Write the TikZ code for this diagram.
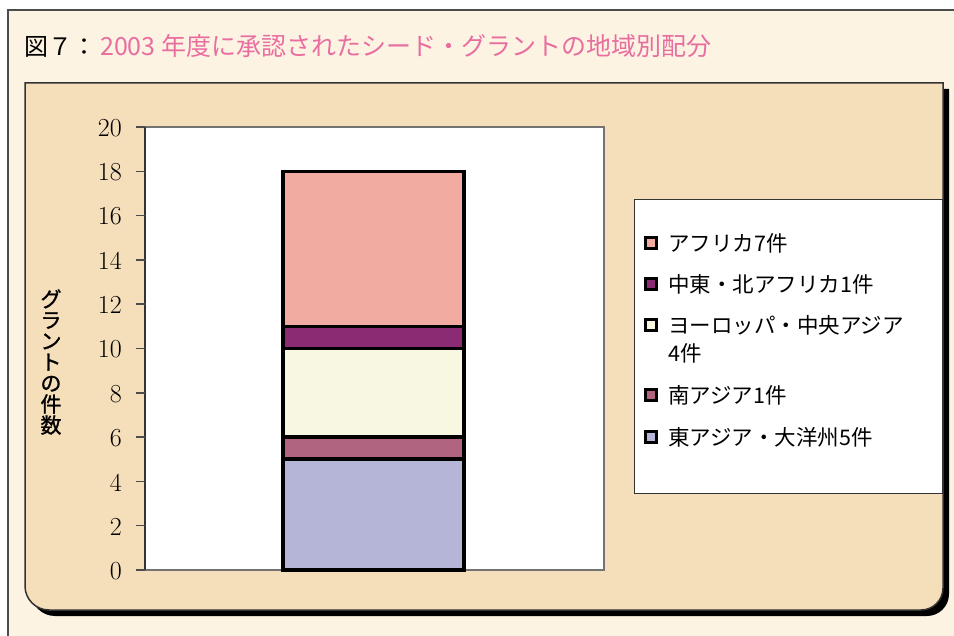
\documentclass[tikz,border=0pt]{standalone}
\usepackage{fontspec}
\newfontfamily\cjk{Noto Sans CJK JP}
\newfontfamily\cjkmed[FakeBold=1.2]{Noto Sans CJK JP}
\definecolor{framebg}{HTML}{FDF3E3}
\definecolor{panelbg}{HTML}{F5DEBA}
\definecolor{titlepink}{HTML}{E96EA0}
\definecolor{cAfrica}{HTML}{F1ABA0}
\definecolor{cMENA}{HTML}{8A2B73}
\definecolor{cEurope}{HTML}{F7F7E2}
\definecolor{cSAsia}{HTML}{B16480}
\definecolor{cEAsia}{HTML}{B5B5D8}
\tikzset{
  seg/.style={draw=black, line width=3.5pt},
  legmark/.style={draw=black, line width=2.5pt, minimum size=11pt, inner sep=0pt},
  legtext/.style={anchor=west, inner sep=0pt, font=\cjk\fontsize{21.5}{24}\selectfont},
  ticklab/.style={anchor=east, inner sep=0pt, font=\fontsize{26}{26}\selectfont},
}
\begin{document}
\begin{tikzpicture}[x=1pt,y=-1pt]
\useasboundingbox (0,0) rectangle (954,636);
\clip (0,0) rectangle (954,636);
\fill[white] (0,0) rectangle (954,636);
% outer frame
\draw[fill=framebg, draw=black!70, line width=1.5pt] (8,10) rectangle (980,660);
% title
\node[anchor=base west, inner sep=0pt, font=\cjk\fontsize{24}{24}\selectfont] (fig) at (24,56) {図７：};
\node[anchor=base west, inner sep=0pt, font=\cjk\fontsize{25}{25}\selectfont, text=titlepink] (title) at (100,56) {2003 年度に承認されたシード・グラントの地域別配分};
% panel shadow and panel
\fill[black] (31,89) -- (949,89) -- (949,594) arc[start angle=0, end angle=90, radius=22] -- (55,616) arc[start angle=90, end angle=180, radius=24] -- cycle;
\draw[fill=panelbg, draw=black!80, line width=1.5pt] (25,83) -- (943,83) -- (943,588) arc[start angle=0, end angle=90, radius=22] -- (49,610) arc[start angle=90, end angle=180, radius=24] -- cycle;
% plot area
\draw[fill=white, draw=black!55, line width=2pt] (145,127) rectangle (604,570);
\draw[black!80, line width=1.5pt] (145,127) -- (145,570);
\foreach \v in {0,2,...,20} {
  \draw[black!70, line width=1.5pt] (136,{570-\v*22.15}) -- (145,{570-\v*22.15});
  \node[ticklab] at (122,{571-\v*22.15}) {\v};
}
% bar
\def\u{22.15}
\draw[seg, fill=cEAsia]  (283,570) rectangle (464,{570-5*\u});
\draw[seg, fill=cSAsia]  (283,{570-5*\u}) rectangle (464,{570-6*\u});
\draw[seg, fill=cEurope] (283,{570-6*\u}) rectangle (464,{570-10*\u});
\draw[seg, fill=cMENA]   (283,{570-10*\u}) rectangle (464,{570-11*\u});
\draw[seg, fill=cAfrica] (283,{570-11*\u}) rectangle (464,{570-18*\u});
% y-axis title
\node[align=center, inner sep=0pt, font=\cjkmed\fontsize{21}{21}\selectfont] (ytitle) at (51,362) {グ\\ラ\\ン\\ト\\の\\件\\数};
% legend
\draw[fill=white, draw=black!80, line width=1pt] (634,200) rectangle (942,493);
\node[legmark, fill=cAfrica] (m1) at (651,243) {};
\node[legtext] (t1) at (668,243) {アフリカ7件};
\node[legmark, fill=cMENA] (m2) at (651,284) {};
\node[legtext] (t2) at (668,284) {中東・北アフリカ1件};
\node[legmark, fill=cEurope] (m3) at (651,325) {};
\node[legtext] (t3) at (668,325) {ヨーロッパ・中央アジア};
\node[legtext] (t3b) at (668,353) {4件};
\node[legmark, fill=cSAsia] (m4) at (651,395) {};
\node[legtext] (t4) at (668,395) {南アジア1件};
\node[legmark, fill=cEAsia] (m5) at (651,437) {};
\node[legtext] (t5) at (668,437) {東アジア・大洋州5件};
\end{tikzpicture}
\end{document}
